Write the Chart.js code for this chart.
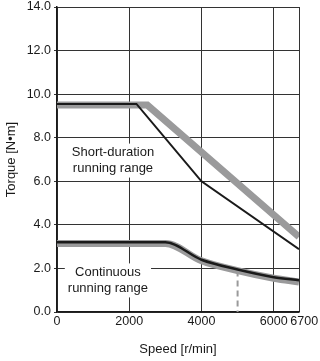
<!DOCTYPE html>
<html>
<head>
<meta charset="utf-8">
<script src="https://cdn.jsdelivr.net/npm/chart.js@4/dist/chart.umd.min.js"></script>
<style>
  html, body { margin: 0; padding: 0; background: #fff; }
  #wrap { width: 320px; height: 361px; }
</style>
</head>
<body>
<div id="wrap"><canvas id="torqueChart"></canvas></div>
<script>
// speed ticks and torque ticks
const speedTicks = [0, 2000, 4000, 6000, 6700];
const torqueMax = 14;

// short-duration running range (gray = thick band, black = thin line)
const shortGraySpeed = [0, 2500, 6700];
const shortGrayTorque = [9.5, 9.5, 3.45];
const shortBlackSpeed = [0, 2200, 4000, 6700];
const shortBlackTorque = [9.55, 9.55, 6.0, 2.88];

// continuous running range
const contGraySpeed = [0, 3000, 4000, 5000, 6000, 6700];
const contGrayTorque = [3.15, 3.15, 2.35, 1.9, 1.55, 1.38];
const contBlackSpeed = [0, 3000, 4000, 5000, 6000, 6700];
const contBlackTorque = [3.2, 3.2, 2.4, 1.95, 1.6, 1.46];

// rated-speed marker (dashed)
const markSpeed = [5000, 5000];
const markTorque = [1.9, 0];

const zip = (xs, ys) => xs.map((x, i) => ({ x: x, y: ys[i] }));

const FONT = 'Liberation Sans, Arial, Helvetica, sans-serif';
const GRAY = '#9a9a9b';
const INK = '#1a1a1a';

const rangeLabels = {
    id: 'rangeLabels',
    afterDatasetsDraw(chart) {
        const ctx = chart.ctx;
        const xs = chart.scales.x, ys = chart.scales.y;
        const items = [
            { x: 1550, y: 6.95, lines: ['Short-duration', 'running range'] },
            { x: 1410, y: 1.45, lines: ['Continuous', 'running range'] }
        ];
        ctx.save();
        ctx.font = '13px ' + FONT;
        ctx.textAlign = 'center';
        ctx.textBaseline = 'middle';
        items.forEach(it => {
            const cx = xs.getPixelForValue(it.x);
            const cy = ys.getPixelForValue(it.y);
            const lh = 16;
            const w = Math.max(...it.lines.map(l => ctx.measureText(l).width)) + 6;
            const h = lh * it.lines.length + 2;
            ctx.fillStyle = '#fff';
            ctx.fillRect(cx - w / 2, cy - h / 2, w, h);
            ctx.fillStyle = INK;
            it.lines.forEach((l, i) => {
                ctx.fillText(l, cx, cy + (i - (it.lines.length - 1) / 2) * lh);
            });
        });
        ctx.restore();
    }
};

const ctx = document.getElementById('torqueChart').getContext('2d');

// first dataset is drawn on top, so black lines come first
new Chart(ctx, {
    type: 'line',
    data: {
        datasets: [
            {
                data: zip(shortBlackSpeed, shortBlackTorque),
                borderColor: INK,
                borderWidth: 2,
                pointRadius: 0
            },
            {
                data: zip(contBlackSpeed, contBlackTorque),
                borderColor: INK,
                borderWidth: 2.5,
                cubicInterpolationMode: 'monotone',
                pointRadius: 0
            },
            {
                data: zip(shortGraySpeed, shortGrayTorque),
                borderColor: GRAY,
                borderWidth: 7,
                pointRadius: 0
            },
            {
                data: zip(contGraySpeed, contGrayTorque),
                borderColor: GRAY,
                borderWidth: 7,
                cubicInterpolationMode: 'monotone',
                pointRadius: 0
            },
            {
                data: zip(markSpeed, markTorque),
                borderColor: GRAY,
                borderWidth: 2,
                borderDash: [6, 4],
                pointRadius: 0
            }
        ]
    },
    options: {
        responsive: true,
        maintainAspectRatio: false,
        animation: false,
        layout: { padding: { left: 0, right: 21, top: 7, bottom: 0 } },
        plugins: {
            legend: { display: false },
            tooltip: { enabled: false }
        },
        scales: {
            x: {
                type: 'linear',
                min: 0,
                max: 6700,
                afterBuildTicks: axis => { axis.ticks = speedTicks.map(v => ({ value: v })); },
                afterFit: axis => {
                    axis.height = 49;
                    axis.paddingRight = 0;
                    axis.paddingLeft = 0;
                },
                ticks: {
                    color: INK,
                    font: { family: FONT, size: 12.5 },
                    // last label nudged right like in the print
                    callback: v => (v === 6700 ? '\u00a0\u00a0\u00a06700' : String(v)),
                    maxRotation: 0,
                    autoSkip: false,
                    padding: 2
                },
                grid: { color: '#333', lineWidth: 1, drawTicks: false },
                border: { color: INK, width: 1.5 },
                title: {
                    display: true,
                    text: 'Speed [r/min]',
                    color: INK,
                    font: { family: FONT, size: 13 },
                    padding: { top: 4 }
                }
            },
            y: {
                min: 0,
                max: torqueMax,
                afterFit: axis => {
                    axis.width = 57;
                    axis.paddingTop = 0;
                    axis.paddingBottom = 0;
                },
                ticks: {
                    stepSize: 2,
                    color: INK,
                    font: { family: FONT, size: 12.5 },
                    callback: v => v.toFixed(1),
                    padding: 3
                },
                grid: { color: '#333', lineWidth: 1, tickLength: 3 },
                border: { color: INK, width: 1.5 },
                title: {
                    display: true,
                    text: 'Torque [N\u2022m]',
                    color: INK,
                    font: { family: FONT, size: 13 },
                    padding: { bottom: 2 }
                }
            }
        }
    },
    plugins: [rangeLabels]
});
</script>
</body>
</html>
